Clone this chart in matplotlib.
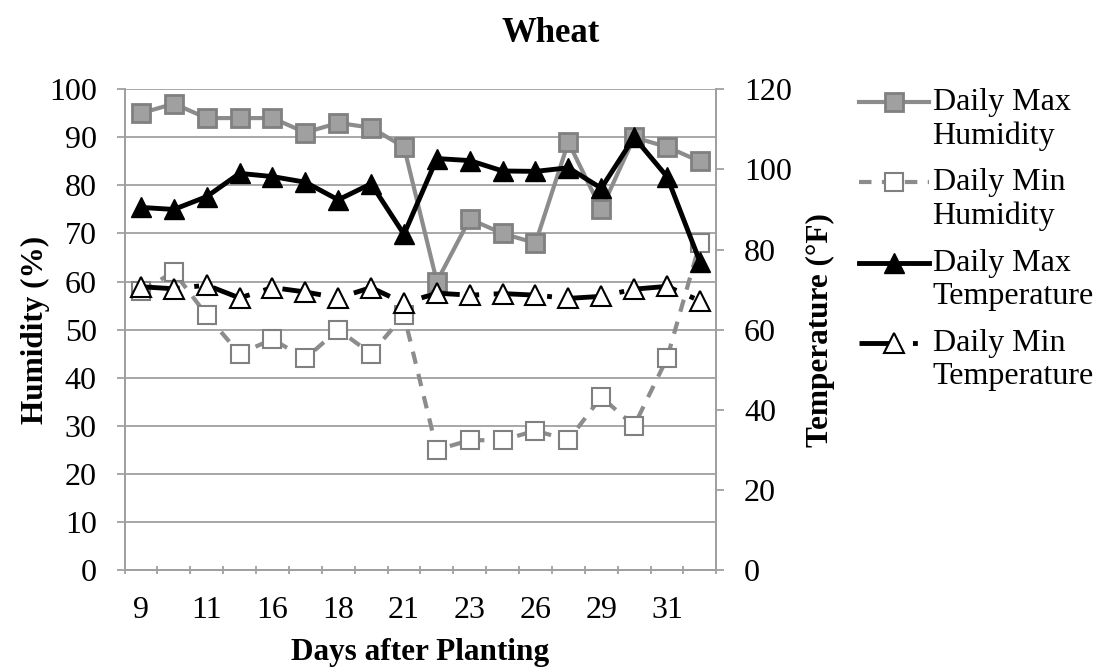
import matplotlib
matplotlib.use("Agg")
import matplotlib.pyplot as plt
from matplotlib.lines import Line2D
import numpy as np

plt.rcParams['font.family'] = ['Liberation Serif', 'DejaVu Serif']

# category days (only every other one is labelled on the axis)
days = ['9', '10', '11', '14', '16', '17', '18', '20', '21',
        '22', '23', '25', '26', '28', '29', '30', '31', '33']
max_humidity = [95, 97, 94, 94, 94, 91, 93, 92, 88,
                60, 73, 70, 68, 89, 75, 90, 88, 85]
min_humidity = [58, 62, 53, 45, 48, 44, 50, 45, 53,
                25, 27, 27, 29, 27, 36, 30, 44, 68]
max_temp = [90.5, 90, 93.2, 99, 98.2, 96.8, 92.4, 96.4, 83.8,
            102.7, 102.2, 99.6, 99.5, 100.4, 95.3, 108, 98.2, 77]
min_temp = [70.7, 70.2, 71.1, 67.9, 70.5, 69.4, 67.9, 70.5, 66.6,
            69.1, 68.6, 69, 68.6, 67.8, 68.3, 70.1, 70.8, 67.2]

x = list(range(len(days)))
GRID = '#a0a0a0'
GRAY_LINE = '#8c8c8c'
TICK_FS = 23

fig = plt.figure(figsize=(11.02, 6.71), dpi=100)
ax = fig.add_axes([0.113, 0.1505, 0.537, 0.7165])
ax2 = ax.twinx()

ax.set_xlim(-0.5, len(days) - 0.5)
ax.set_ylim(0, 100)
ax2.set_ylim(0, 120)
ax.set_yticks(range(0, 101, 10))
ax2.set_yticks(range(0, 121, 20))
ax.yaxis.grid(True, color=GRID, linewidth=1.3)
ax.set_axisbelow(True)

# x ticks at category boundaries, labels at every other category
ax.set_xticks([i - 0.5 for i in range(len(days) + 1)])
ax.set_xticklabels([])
ax.set_xticks(x[::2], minor=True)
ax.set_xticklabels(days[::2], minor=True)
ax.tick_params(axis='x', which='minor', length=0, pad=19, labelsize=TICK_FS)
ax.tick_params(axis='x', which='major', length=6, width=1.3, color=GRID, direction='inout')
ax.tick_params(axis='y', length=6, width=1.3, color=GRID, labelsize=TICK_FS, pad=14)
ax2.tick_params(axis='y', length=6, width=1.3, color=GRID, labelsize=TICK_FS, pad=14)

for a in (ax, ax2):
    a.spines['top'].set_visible(False)
    for s in ('left', 'right', 'bottom'):
        a.spines[s].set_color(GRID)
        a.spines[s].set_linewidth(1.3)

l1, = ax.plot(x, max_humidity, color=GRAY_LINE, linewidth=3, marker='s', markersize=13,
              markerfacecolor='#a0a0a0', markeredgecolor='#808080', markeredgewidth=2, zorder=3)
l2, = ax.plot(x, min_humidity, color=GRAY_LINE, linewidth=3, dashes=(3, 2.5), marker='s',
              markersize=13, markerfacecolor='white', markeredgecolor='#808080',
              markeredgewidth=1.5, zorder=3)
l3, = ax2.plot(x, max_temp, color='black', linewidth=3.5, marker='^', markersize=15,
               markerfacecolor='black', markeredgecolor='black', zorder=4)
l4, = ax2.plot(x, min_temp, color='black', linewidth=3.5, dashes=(8, 3, 1, 3), marker='^',
               markersize=15, markerfacecolor='white', markeredgecolor='black',
               markeredgewidth=1.5, zorder=4)

ax.set_ylabel('Humidity (%)', fontsize=22.5, fontweight='bold', labelpad=-1)
ax2.set_ylabel('Temperature (°F)', fontsize=22.5, fontweight='bold', labelpad=10)
ax.set_xlabel('Days after Planting', fontsize=22.5, fontweight='bold', labelpad=9)
fig.suptitle('Wheat', fontsize=25, fontweight='bold', y=0.975)

leg = fig.legend([l1, l2, l3, l4],
                 ['Daily Max\nHumidity', 'Daily Min\nHumidity',
                  'Daily Max\nTemperature', 'Daily Min\nTemperature'],
                 loc='upper left', bbox_to_anchor=(0.768, 0.888), frameon=False,
                 fontsize=23, handlelength=2.2, handletextpad=0.1, labelspacing=0.55,
                 borderaxespad=0)
for t in leg.get_texts():
    t.set_linespacing(1.2)
# line up each legend symbol with the first line of its label
for ln in leg.findobj(Line2D):
    ln.set_ydata(np.asarray(ln.get_ydata(), dtype=float) + 12.5)

fig.savefig('out.png', dpi=100)
